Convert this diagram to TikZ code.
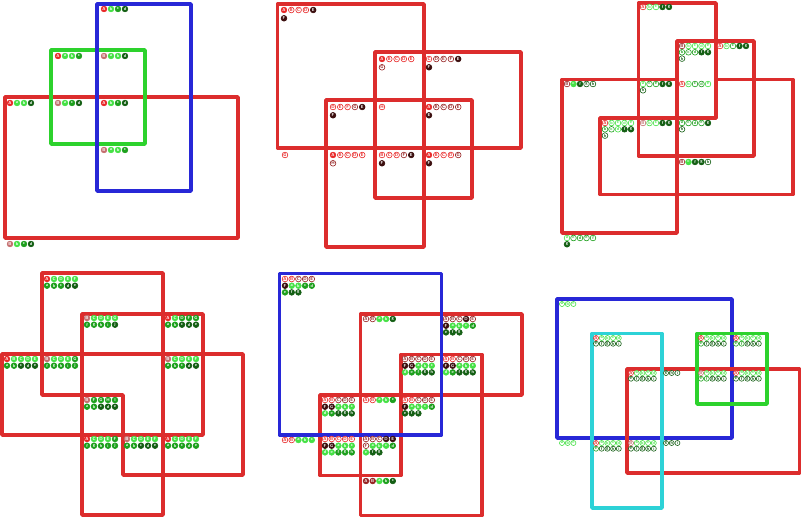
\documentclass[tikz,border=0pt]{standalone}
\usepackage{tikz}

\definecolor{cR}{RGB}{232,40,40}
\definecolor{cP}{RGB}{196,110,110}
\definecolor{cM}{RGB}{150,35,35}
\definecolor{cK}{RGB}{60,15,15}
\definecolor{cL}{RGB}{70,225,70}
\definecolor{cG}{RGB}{30,160,30}
\definecolor{cD}{RGB}{20,95,20}
\definecolor{rRed}{RGB}{220,45,45}
\definecolor{rBlue}{RGB}{40,40,215}
\definecolor{rGreen}{RGB}{45,210,45}
\definecolor{rCyan}{RGB}{45,210,215}

\newcommand\tsz{4.3pt}
\newcommand\pitch{7}
\tikzset{
  region/.style={line width=2.7pt, line join=round},
  tok/.style={circle, inner sep=0pt, minimum size=\tsz, line width=0.45pt,
    font=\fontsize{3.2}{3.2}\selectfont\sffamily\bfseries},
  tokf/.style={tok, fill=#1, draw=#1, text=white},
  toko/.style={tok, fill=white, draw=#1, text=#1},
}
% one row of circled letters: name, x, y, letter/colour/filled
\newcommand\labrow[4]{%
  \foreach \tl/\tc/\tm [count=\ti from 0] in {#4}{%
    \ifnum\tm=1
      \node[tokf=\tc] (#1-\ti) at ({#2+\ti*\pitch},#3) {\tl};
    \else
      \node[toko=\tc] (#1-\ti) at ({#2+\ti*\pitch},#3) {\tl};
    \fi}}

\begin{document}
\begin{tikzpicture}[x=0.75pt,y=-0.75pt]
    \useasboundingbox (0,0) rectangle (801,518);

    % Panel 1: three rectangles
    \draw[region, rRed] (5,97) rectangle (238,238);
    \draw[region, rGreen] (51,50) rectangle (145,144);
    \draw[region, rBlue] (97,4) rectangle (191,191);
    \labrow{p1a}{104}{9}{A/cR/1,b/cL/1,c/cG/1,d/cD/1}
    \labrow{p1b}{58}{56}{A/cR/1,a/cL/1,b/cL/1,c/cG/1}
    \labrow{p1c}{104}{56}{B/cP/1,a/cL/1,b/cL/1,d/cD/1}
    \labrow{p1d}{10}{103}{A/cR/1,a/cL/1,b/cL/1,d/cD/1}
    \labrow{p1e}{58}{103}{B/cP/1,a/cL/1,c/cG/1,d/cD/1}
    \labrow{p1f}{104}{103}{A/cR/1,b/cL/1,c/cG/1,d/cD/1}
    \labrow{p1g}{104}{150}{B/cP/1,a/cL/1,b/cL/1,c/cG/1}
    \labrow{p1h}{10}{244}{B/cP/1,b/cL/1,c/cG/1,d/cD/1}

    % Panel 2: four red rectangles
    \renewcommand\pitch{7.3}
    \draw[region, rRed] (277.5,4) rectangle (424,148);
    \draw[region, rRed] (375,52) rectangle (521,148);
    \draw[region, rRed] (326,100) rectangle (424,247);
    \draw[region, rRed] (375,100) rectangle (472,198);
    \labrow{p2a}{284}{10}{A/cR/1,B/cR/0,C/cR/0,D/cR/0,E/cK/1}
    \labrow{p2a2}{284}{18.3}{F/cK/1}
    \labrow{p2b}{382}{59}{A/cR/1,B/cR/0,C/cR/0,D/cR/0,E/cR/0}
    \labrow{p2b2}{382}{67.3}{G/cM/0}
    \labrow{p2c}{429}{59}{C/cR/0,D/cM/0,E/cM/0,F/cM/0,E/cK/1}
    \labrow{p2c2}{429}{67.3}{F/cK/1}
    \labrow{p2d}{333}{107}{D/cR/0,E/cR/0,F/cR/0,G/cM/0,E/cK/1}
    \labrow{p2d2}{333}{115.3}{F/cK/1}
    \labrow{p2e}{382}{107}{H/cR/0}
    \labrow{p2f}{429}{107}{A/cR/1,B/cM/0,C/cM/0,D/cM/0,E/cM/0}
    \labrow{p2f2}{429}{115.3}{E/cK/1}
    \labrow{p2g}{285}{155}{G/cR/0}
    \labrow{p2h}{333}{155}{A/cR/1,B/cR/0,C/cR/0,D/cR/0,E/cR/0}
    \labrow{p2h2}{333}{163.3}{H/cM/0}
    \labrow{p2i}{382}{155}{B/cR/0,C/cR/0,D/cR/0,F/cM/0,E/cK/1}
    \labrow{p2i2}{382}{163.3}{F/cK/1}
    \labrow{p2j}{429}{155}{A/cR/1,B/cR/0,C/cR/0,D/cR/0,G/cM/0}
    \labrow{p2j2}{429}{163.3}{F/cK/1}

    % Panel 3: stepped red shapes
    \renewcommand\pitch{6.5}
    \draw[region, rRed] (562,79.5) rectangle (677,233);
    \draw[region, rRed] (638.5,3) rectangle (716,118);
    \draw[region, rRed] (677,41) -- (754,41) -- (754,156) -- (638.5,156)
        -- (638.5,118) -- (677,118) -- cycle;
    \draw[region, rRed] (600,118) -- (716,118) -- (716,79.5) -- (793,79.5)
        -- (793,194.5) -- (600,194.5) -- cycle;
    \labrow{p3a}{643}{7}{A/cR/0,b/cL/0,c/cL/0,f/cD/1,g/cD/1}
    \labrow{p3b}{682}{46}{B/cM/0,b/cL/0,c/cL/0,d/cL/0,e/cL/0}
    \labrow{p3b2}{682}{52.3}{b/cG/0,c/cG/0,d/cG/0,f/cD/1,g/cD/1}
    \labrow{p3b3}{682}{58.6}{h/cD/0}
    \labrow{p3c}{720}{46}{A/cR/0,b/cL/0,c/cG/0,f/cD/1,g/cD/1}
    \labrow{p3d}{567}{84}{B/cM/0,c/cL/1,f/cD/1,g/cD/0,h/cD/0}
    \labrow{p3e}{643}{84}{a/cL/0,c/cG/0,e/cG/0,f/cD/1,g/cD/1}
    \labrow{p3e2}{643}{90.3}{h/cD/0}
    \labrow{p3f}{682}{84}{A/cR/0,b/cL/0,c/cG/0,d/cG/0,e/cL/0}
    \labrow{p3g}{605}{123}{A/cR/0,b/cL/0,c/cL/0,d/cL/0,e/cL/0}
    \labrow{p3g2}{605}{129.3}{b/cG/0,c/cG/0,d/cL/0,f/cD/1,g/cD/1}
    \labrow{p3g3}{605}{135.6}{h/cD/0}
    \labrow{p3h}{643}{123}{B/cP/0,b/cL/0,c/cL/0,f/cD/1,g/cD/1}
    \labrow{p3i}{682}{123}{a/cG/0,c/cG/0,d/cG/0,e/cG/0,g/cD/1}
    \labrow{p3i2}{682}{129.3}{h/cD/0}
    \labrow{p3j}{682}{162}{B/cM/0,c/cL/1,f/cD/1,g/cD/1,h/cD/0}
    \labrow{p3k}{567}{238}{a/cL/0,c/cG/0,d/cG/0,e/cG/0,f/cG/0}
    \labrow{p3k2}{567}{244.3}{g/cD/1}

    % Panel 4: red shapes on a square grid
    \renewcommand\pitch{7}
    \draw[region, rRed] (2,354) rectangle (203,435);
    \draw[region, rRed] (82,314) rectangle (163,515);
    \draw[region, rRed] (42,273) -- (163,273) -- (163,314) -- (203,314)
        -- (203,354) -- (243,354) -- (243,475) -- (123,475) -- (123,395)
        -- (42,395) -- cycle;
    \labrow{p4a}{47}{279}{A/cR/1,C/cL/1,D/cL/1,E/cL/1,F/cL/1}
    \labrow{p4a2}{47}{285.7}{a/cG/1,b/cG/1,c/cG/1,d/cD/1,e/cD/1}
    \labrow{p4b}{87}{318}{B/cP/1,C/cL/1,D/cL/1,E/cL/1,G/cL/1}
    \labrow{p4b2}{87}{324.7}{f/cG/1,g/cG/1,h/cG/1,i/cG/1,j/cD/1}
    \labrow{p4c}{168}{318}{A/cR/1,C/cL/1,D/cG/1,F/cG/1,G/cG/1}
    \labrow{p4c2}{168}{324.7}{a/cG/1,b/cG/1,c/cD/1,d/cD/1,e/cD/1}
    \labrow{p4d}{7}{359}{A/cR/1,B/cL/1,C/cL/1,D/cL/1,E/cL/1}
    \labrow{p4d2}{7}{365.7}{a/cG/1,b/cG/1,c/cD/1,d/cD/1,e/cD/1}
    \labrow{p4e}{47}{359}{B/cP/1,C/cL/1,D/cL/1,E/cL/1,G/cG/1}
    \labrow{p4e2}{47}{365.7}{f/cG/1,g/cG/1,h/cG/1,i/cG/1,j/cG/1}
    \labrow{p4f}{168}{359}{B/cP/1,C/cL/1,D/cL/1,E/cL/1,F/cL/1}
    \labrow{p4f2}{168}{365.7}{a/cG/1,b/cG/1,c/cG/1,d/cD/1,e/cD/1}
    \labrow{p4g}{87}{400}{B/cP/1,F/cG/1,G/cG/1,H/cG/1,I/cG/1}
    \labrow{p4g2}{87}{406.7}{a/cG/1,b/cG/1,c/cD/1,d/cD/1,e/cD/1}
    \labrow{p4h}{87}{439}{A/cR/1,C/cL/1,D/cL/1,E/cL/1,F/cG/1}
    \labrow{p4h2}{87}{445.7}{f/cG/1,g/cG/1,h/cG/1,i/cG/1,j/cG/1}
    \labrow{p4i}{127}{439}{B/cP/1,C/cL/1,D/cL/1,E/cL/1,F/cL/1}
    \labrow{p4i2}{127}{445.7}{a/cG/1,b/cG/1,c/cD/1,d/cD/1,e/cD/1}
    \labrow{p4j}{168}{439}{A/cR/1,C/cL/1,D/cL/1,E/cL/1,F/cL/1}
    \labrow{p4j2}{168}{445.7}{a/cG/1,b/cG/1,c/cG/1,d/cG/1,e/cG/1}

    % Panel 5: blue square and red shapes
    \renewcommand\pitch{6.7}
    \draw[region, rRed] (360.5,314) rectangle (522,395);
    \draw[region, rRed] (320,395) rectangle (401,475.5);
    \draw[region, rRed] (401,354.5) -- (482,354.5) -- (482,515.5) -- (360.5,515.5)
        -- (360.5,395) -- (401,395) -- cycle;
    \draw[region, rBlue] (279.5,273.5) rectangle (441.5,435);
    \labrow{p5a}{285}{279}{A/cR/0,B/cR/0,C/cM/0,D/cM/0,E/cM/0}
    \labrow{p5a2}{285}{285.7}{F/cK/1,a/cL/1,b/cL/1,c/cG/1,d/cG/1}
    \labrow{p5a3}{285}{292.4}{e/cG/1,f/cD/1,g/cD/1}
    \labrow{p5b}{366}{319}{A/cM/0,B/cM/0,a/cL/1,b/cL/1,g/cD/1}
    \labrow{p5c}{446}{319}{A/cM/0,B/cM/0,C/cM/0,D/cK/1,E/cM/0}
    \labrow{p5c2}{446}{325.7}{F/cK/1,a/cL/1,b/cL/1,c/cL/1,d/cG/1}
    \labrow{p5c3}{446}{332.4}{e/cD/1,f/cD/1,g/cD/1}
    \labrow{p5d}{405}{359}{A/cM/0,B/cM/0,C/cM/0,D/cM/0,E/cM/0}
    \labrow{p5d2}{405}{365.7}{F/cK/1,G/cK/1,a/cL/1,b/cL/1,c/cL/1}
    \labrow{p5d3}{405}{372.4}{d/cL/1,e/cG/1,f/cG/1,g/cD/1,h/cD/1}
    \labrow{p5e}{446}{359}{A/cR/0,B/cR/0,C/cM/0,D/cM/0,E/cM/0}
    \labrow{p5e2}{446}{365.7}{F/cK/1,G/cK/1,a/cL/1,b/cL/1,c/cL/1}
    \labrow{p5e3}{446}{372.4}{d/cL/1,e/cG/1,f/cD/1,g/cD/1,h/cD/1}
    \labrow{p5f}{325}{400}{A/cR/0,B/cR/0,C/cM/0,D/cM/0,E/cM/0}
    \labrow{p5f2}{325}{406.7}{F/cK/1,G/cK/1,a/cL/1,b/cL/1,c/cL/1}
    \labrow{p5f3}{325}{413.4}{d/cL/1,e/cG/1,f/cD/1,g/cD/1,h/cD/1}
    \labrow{p5g}{366}{400}{A/cR/0,B/cR/0,a/cL/1,b/cL/1,c/cG/1}
    \labrow{p5h}{405}{400}{A/cR/0,B/cR/0,C/cM/0,D/cM/0,E/cM/0}
    \labrow{p5h2}{405}{406.7}{F/cK/1,a/cL/1,b/cL/1,c/cL/1,d/cG/1}
    \labrow{p5h3}{405}{413.4}{e/cD/1,f/cD/1,g/cD/1}
    \labrow{p5i}{285}{440}{A/cR/0,B/cR/0,a/cL/1,b/cL/1,c/cL/1}
    \labrow{p5j}{325}{439}{A/cR/0,B/cR/0,C/cR/0,D/cR/0,E/cR/0}
    \labrow{p5j2}{325}{445.7}{F/cK/1,G/cK/1,a/cL/1,b/cL/1,c/cL/1}
    \labrow{p5j3}{325}{452.4}{d/cL/1,e/cL/1,f/cG/1,g/cG/1,h/cG/1}
    \labrow{p5k}{366}{439}{A/cM/0,B/cM/0,C/cM/0,D/cK/1,E/cK/1}
    \labrow{p5k2}{366}{445.7}{F/cM/0,a/cL/1,b/cL/1,c/cL/1,d/cG/1}
    \labrow{p5k3}{366}{452.4}{e/cL/1,f/cD/1,g/cD/1}
    \labrow{p5l}{366}{481}{A/cM/1,B/cM/1,a/cL/1,b/cG/1,c/cD/1}

    % Panel 6: four coloured rectangles
    \renewcommand\pitch{5.7}
    \renewcommand\tsz{3.8pt}
    \draw[region, rBlue] (557,299) rectangle (732,438);
    \draw[region, rRed] (627,369) rectangle (799.5,473);
    \draw[region, rCyan] (592,333.5) rectangle (662,508);
    \draw[region, rGreen] (697,333.5) rectangle (767,404);
    \labrow{p6a}{562}{304}{a/cL/0,b/cL/0,c/cL/0}
    \labrow{p6b}{596}{338}{A/cR/0,a/cL/0,b/cL/0,c/cL/0,d/cL/0}
    \labrow{p6b2}{596}{343.7}{e/cD/0,f/cD/0,g/cD/0,h/cD/0,i/cD/0}
    \labrow{p6c}{701}{338}{A/cR/0,a/cL/0,b/cL/0,c/cL/0,d/cL/0}
    \labrow{p6c2}{701}{343.7}{e/cG/0,f/cD/0,g/cD/0,h/cD/0,i/cD/0}
    \labrow{p6d}{736}{338}{A/cR/0,a/cL/0,b/cL/0,c/cL/0,d/cL/0}
    \labrow{p6d2}{736}{343.7}{e/cG/0,f/cG/0,g/cD/0,h/cD/0,i/cD/0}
    \labrow{p6e}{631}{373}{A/cR/0,a/cL/0,b/cL/0,c/cL/0,d/cL/0}
    \labrow{p6e2}{631}{378.7}{e/cD/0,f/cD/0,g/cD/0,h/cD/0,i/cD/0}
    \labrow{p6f}{666}{373}{g/cD/0,h/cD/0,i/cD/0}
    \labrow{p6g}{701}{373}{B/cP/0,a/cL/0,b/cL/0,c/cL/0,d/cL/0}
    \labrow{p6g2}{701}{378.7}{e/cG/0,f/cG/0,g/cD/0,h/cD/0,i/cD/0}
    \labrow{p6h}{736}{373}{A/cR/0,a/cL/0,b/cL/0,c/cL/0,d/cL/0}
    \labrow{p6h2}{736}{378.7}{e/cD/0,f/cD/0,g/cD/0,h/cD/0,i/cD/0}
    \labrow{p6i}{562}{443}{a/cL/0,b/cL/0,c/cL/0}
    \labrow{p6j}{596}{443}{A/cR/0,a/cL/0,b/cL/0,c/cL/0,d/cL/0}
    \labrow{p6j2}{596}{448.7}{e/cG/0,f/cD/0,g/cD/0,h/cD/0,i/cD/0}
    \labrow{p6k}{631}{443}{B/cP/0,a/cL/0,b/cL/0,c/cL/0,d/cL/0}
    \labrow{p6k2}{631}{448.7}{e/cD/0,f/cD/0,g/cD/0,h/cD/0,i/cD/0}
    \labrow{p6l}{666}{443}{g/cD/0,h/cD/0,i/cD/0}

\end{tikzpicture}
\end{document}
